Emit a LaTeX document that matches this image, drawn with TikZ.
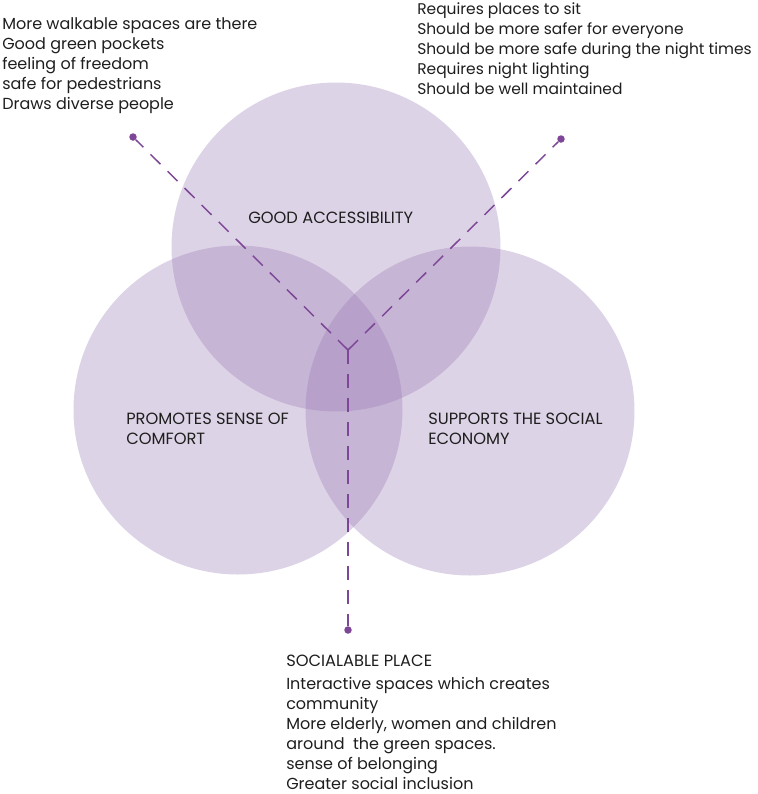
\documentclass[tikz,border=0pt]{standalone}
\usepackage{fontspec}
\setmainfont{Poppins}
\definecolor{circfill}{RGB}{150,118,178}
\definecolor{linecol}{RGB}{125,70,150}
\definecolor{txt}{RGB}{30,30,30}
\tikzset{
  venn/.style={circle,fill=circfill,fill opacity=0.32,draw=none,minimum size=329*0.75pt,inner sep=0pt},
  dot/.style={circle,fill=linecol,minimum size=7.5*0.75pt,inner sep=0pt},
  dashline/.style={draw=linecol,line width=1.1pt,dash pattern=on 10.5pt off 7.5pt},
  listtxt/.style={align=left,inner sep=0pt,text=txt,font=\fontsize{12pt}{15pt}\selectfont},
  captxt/.style={align=left,inner sep=0pt,text=txt,font=\fontsize{12.2pt}{15pt}\selectfont}
}
\begin{document}
\begin{tikzpicture}[x=0.75pt,y=-0.75pt]
\useasboundingbox (0,0) rectangle (758,794);
\node[venn] (top) at (336,247) {};
\node[venn] (left) at (238,410) {};
\node[venn] (right) at (470,411) {};
\coordinate (c) at (348,350);
\node[dot] (d1) at (133,137) {};
\node[dot] (d2) at (561,139) {};
\node[dot] (d3) at (348,630) {};
\draw[dashline] (c) -- (d1);
\draw[dashline] (c) -- (d2);
\draw[dashline] (c) -- (d3);
\node[captxt,anchor=base west] (ta) at (248,223) {GOOD ACCESSIBILITY};
\node[captxt,anchor=base west] (tb) at (126,444) {PROMOTES SENSE OF\\COMFORT};
\node[captxt,anchor=base west] (tc) at (428,444) {SUPPORTS THE SOCIAL\\ECONOMY};
\node[listtxt,anchor=base west] (l1) at (2,109) {More walkable spaces are there\\Good green pockets\\feeling of freedom\\safe for pedestrians\\Draws diverse people};
\node[listtxt,anchor=base west,font=\fontsize{11.6pt}{15pt}\selectfont] (l2) at (417,94) {Requires places to sit\\Should be more safer for everyone\\Should be more safe during the night times\\Requires night lighting\\Should be well maintained};
\node[captxt,anchor=base west] (l3) at (286,666) {SOCIALABLE PLACE};
\node[listtxt,anchor=base west] (l4) at (286,789) {Interactive spaces which creates\\community\\More elderly, women and children\\around\ \ the green spaces.\\sense of belonging\\Greater social inclusion};
\end{tikzpicture}
\end{document}
